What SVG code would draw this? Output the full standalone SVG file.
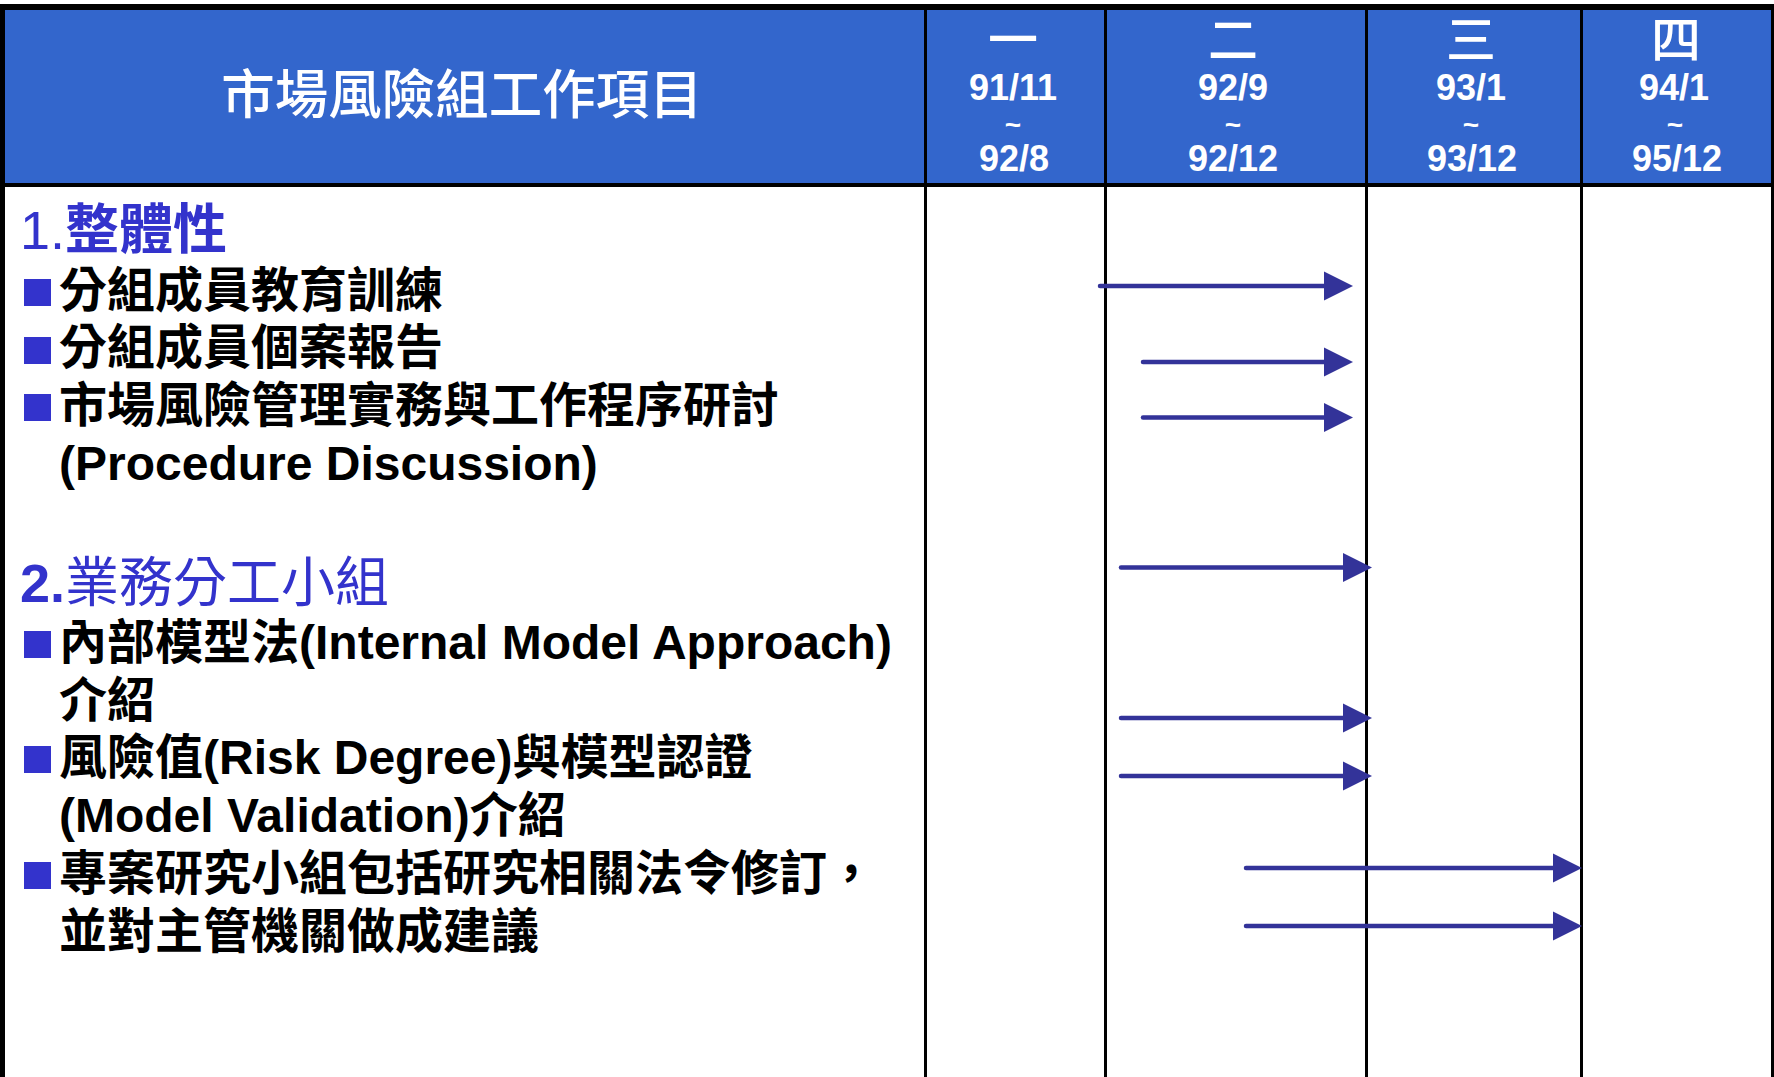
<svg xmlns="http://www.w3.org/2000/svg" width="1774" height="1077" viewBox="0 0 1774 1077">
  <style>
    .hdr { fill: #3366CC; }
    .grid { fill: #000000; }
    .title { font-family: 'Noto Sans CJK TC', sans-serif; font-size: 53.5px; fill: #FFFFFF; text-anchor: middle; font-weight: 500; }
    .colnum { font-family: 'Noto Sans CJK TC', sans-serif; font-size: 50px; fill: #FFFFFF; text-anchor: middle; font-weight: 500; }
    .coldate { font-family: 'Liberation Sans', Arial, sans-serif; font-size: 36px; fill: #FFFFFF; text-anchor: middle; font-weight: bold; }
    .tilde { font-family: 'Liberation Sans', Arial, sans-serif; font-size: 28px; fill: #FFFFFF; text-anchor: middle; font-weight: bold; }
    .sect { font-family: 'Liberation Sans', 'Noto Sans CJK TC', sans-serif; font-size: 54px; fill: #3333CC; }
    .item { font-family: 'Liberation Sans', 'Noto Sans CJK TC', sans-serif; font-size: 48px; fill: #000000; font-weight: bold; }
    .bullet { fill: #3333CC; }
    .arrow { stroke: #333399; stroke-width: 4.5; stroke-linecap: round; fill: none; marker-end: url(#ah); }
  </style>
  <defs>
    <marker id="ah" markerUnits="userSpaceOnUse" markerWidth="30" markerHeight="30" refX="9" refY="14.5" orient="auto" overflow="visible">
      <path d="M0,0 L29,14.5 L0,29 Z" fill="#333399"/>
    </marker>
  </defs>

  <rect x="0" y="0" width="1774" height="1077" fill="#FFFFFF"/>

  <g id="table-grid">
    <rect class="hdr" x="5" y="10" width="1766" height="173"/>
    <rect class="grid" x="0" y="4" width="1774" height="6"/>
    <rect class="grid" x="0" y="4" width="5" height="1073"/>
    <rect class="grid" x="1771" y="4" width="3" height="1073"/>
    <rect class="grid" x="0" y="183" width="1774" height="4"/>
    <rect class="grid" x="924" y="10" width="3" height="1067"/>
    <rect class="grid" x="1104" y="10" width="3" height="1067"/>
    <rect class="grid" x="1365" y="10" width="3" height="1067"/>
    <rect class="grid" x="1580" y="10" width="3" height="1067"/>
  </g>

  <g id="title-cell">
    <text class="title" x="462" y="114">市場風險組工作項目</text>
  </g>

  <g id="phase-1">
    <text class="colnum" x="1013" y="58">一</text>
    <text class="coldate" x="1013" y="100">91/11</text>
    <text class="tilde" x="1013" y="134">~</text>
    <text class="coldate" x="1014" y="171">92/8</text>
  </g>
  <g id="phase-2">
    <text class="colnum" x="1233" y="58">二</text>
    <text class="coldate" x="1233" y="100">92/9</text>
    <text class="tilde" x="1233" y="134">~</text>
    <text class="coldate" x="1233" y="171">92/12</text>
  </g>
  <g id="phase-3">
    <text class="colnum" x="1471" y="58">三</text>
    <text class="coldate" x="1471" y="100">93/1</text>
    <text class="tilde" x="1471" y="134">~</text>
    <text class="coldate" x="1472" y="171">93/12</text>
  </g>
  <g id="phase-4">
    <text class="colnum" x="1676" y="58">四</text>
    <text class="coldate" x="1674" y="100">94/1</text>
    <text class="tilde" x="1675" y="134">~</text>
    <text class="coldate" x="1677" y="171">95/12</text>
  </g>

  <g id="section-1">
    <text class="sect" x="20" y="249">1.<tspan font-weight="bold">整體性</tspan></text>
  </g>
  <g id="item-1-1">
    <rect class="bullet" x="24" y="279" width="27" height="27"/>
    <text class="item" x="59" y="307">分組成員教育訓練</text>
  </g>
  <g id="item-1-2">
    <rect class="bullet" x="24" y="337" width="27" height="27"/>
    <text class="item" x="59" y="364">分組成員個案報告</text>
  </g>
  <g id="item-1-3">
    <rect class="bullet" x="24" y="394" width="27" height="27"/>
    <text class="item" x="59" y="422">市場風險管理實務與工作程序研討</text>
    <text class="item" x="59" y="480">(Procedure Discussion)</text>
  </g>

  <g id="section-2">
    <text class="sect" x="20" y="602"><tspan font-weight="bold">2.</tspan>業務分工小組</text>
  </g>
  <g id="item-2-1">
    <rect class="bullet" x="24" y="631" width="27" height="27"/>
    <text class="item" x="59" y="659">內部模型法(Internal Model Approach)</text>
    <text class="item" x="59" y="717">介紹</text>
  </g>
  <g id="item-2-2">
    <rect class="bullet" x="24" y="746" width="27" height="27"/>
    <text class="item" x="59" y="774">風險值(Risk Degree)與模型認證</text>
    <text class="item" x="59" y="832">(Model Validation)介紹</text>
  </g>
  <g id="item-2-3">
    <rect class="bullet" x="24" y="862" width="27" height="27"/>
    <text class="item" x="59" y="890">專案研究小組包括研究相關法令修訂，</text>
    <text class="item" x="59" y="948">並對主管機關做成建議</text>
  </g>

  <g id="connectors">
    <line class="arrow" x1="1100" y1="286" x2="1333" y2="286"/>
    <line class="arrow" x1="1143" y1="362" x2="1333" y2="362"/>
    <line class="arrow" x1="1143" y1="417.5" x2="1333" y2="417.5"/>
    <line class="arrow" x1="1121" y1="567.5" x2="1352" y2="567.5"/>
    <line class="arrow" x1="1121" y1="718" x2="1352" y2="718"/>
    <line class="arrow" x1="1121" y1="776" x2="1352" y2="776"/>
    <line class="arrow" x1="1246" y1="868" x2="1562" y2="868"/>
    <line class="arrow" x1="1246" y1="926" x2="1562" y2="926"/>
  </g>
</svg>
